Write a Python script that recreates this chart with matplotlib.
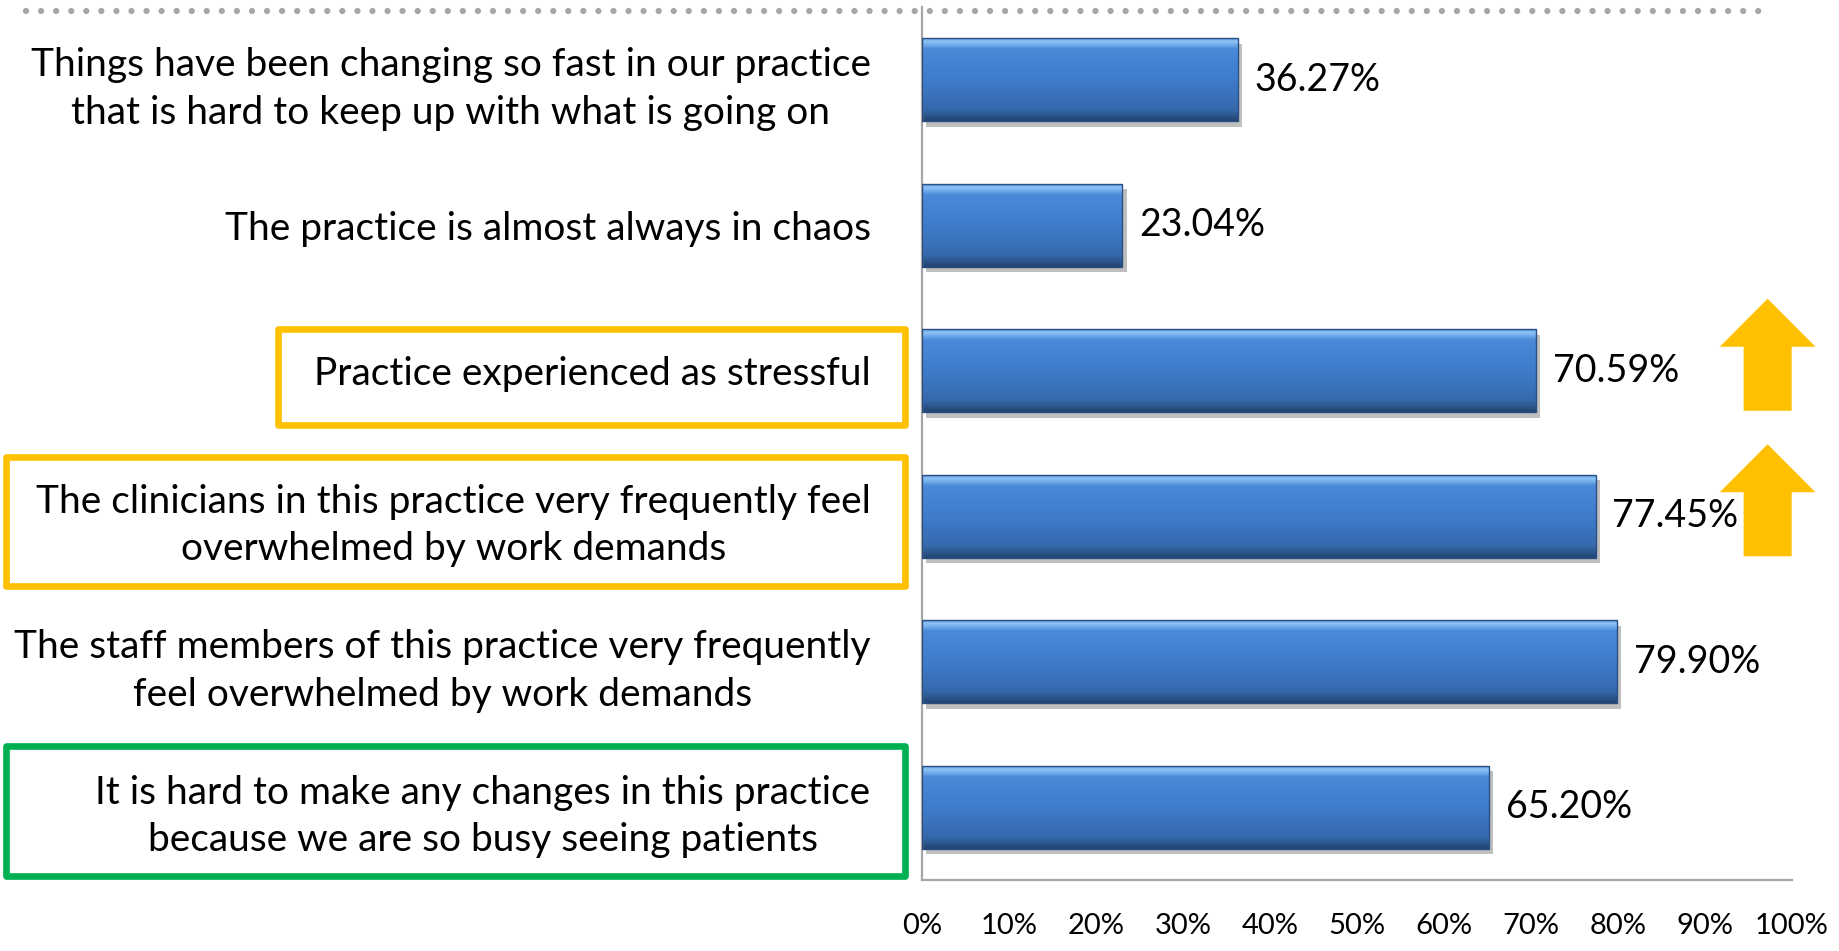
import numpy as np
import matplotlib
matplotlib.use("Agg")
import matplotlib.pyplot as plt
from matplotlib.colors import LinearSegmentedColormap
from matplotlib.patches import Polygon, Rectangle
from matplotlib.lines import Line2D
from matplotlib import patheffects as pe
import matplotlib.transforms as mtransforms

# ──────────────────────────────────────────────────────────────────────────────
# Data
# ──────────────────────────────────────────────────────────────────────────────

categories = [
    "Things have been changing so fast in our practice\nthat is hard to keep up with what is going on",
    "The practice is almost always in chaos",
    "Practice experienced as stressful",
    "The clinicians in this practice very frequently feel\noverwhelmed by work demands",
    "The staff members of this practice very frequently\nfeel overwhelmed by work demands",
    "It is hard to make any changes in this practice\nbecause we are so busy seeing patients",
]
values = [36.27, 23.04, 70.59, 77.45, 79.90, 65.20]
value_labels = ["36.27%", "23.04%", "70.59%", "77.45%", "79.90%", "65.20%"]
x_ticks = [0, 10, 20, 30, 40, 50, 60, 70, 80, 90, 100]
x_tick_labels = [f"{t}%" for t in x_ticks]

# highlighted labels: (category index, colour, left edge in axes fraction, top, bottom offsets)
highlights = [
    (2, "#FFC000", -0.740, 0.285, 0.375),
    (3, "#FFC000", -1.053, 0.41, 0.48),
    (5, "#00B050", -1.053, 0.42, 0.47),
]
arrow_rows = [2, 3]

# ──────────────────────────────────────────────────────────────────────────────
# Figure
# ──────────────────────────────────────────────────────────────────────────────

plt.rcParams["font.family"] = ["Lato", "DejaVu Sans"]

W, H = 1839, 951
fig = plt.figure(figsize=(W / 100, H / 100), dpi=100)
ax = fig.add_axes([922 / W, 1 - 880 / H, 870 / W, 873 / H])
ax.set_facecolor("none")

y = np.arange(len(categories))
bar_h = 0.57
bars = ax.barh(y, values, height=bar_h, color="#3D7BCA", zorder=2,
               path_effects=[pe.SimplePatchShadow(offset=(3, -4), shadow_rgbFace="black", alpha=0.25),
                             pe.Normal()])

# glossy vertical gradient on every bar
grad_cmap = LinearSegmentedColormap.from_list("bevel", [
    (0.0, "#5C9CE2"), (0.04, "#8EC5F7"), (0.13, "#4A8AD9"),
    (0.5, "#3E7CCB"), (0.86, "#3669AC"), (1.0, "#23446F"),
])
grad = np.linspace(0, 1, 256).reshape(-1, 1)
for bar in bars:
    x0, y0 = bar.get_x(), bar.get_y()
    w, h = bar.get_width(), bar.get_height()
    im = ax.imshow(grad, cmap=grad_cmap, aspect="auto", zorder=2.5,
                   extent=[x0, x0 + w, y0 + h, y0], interpolation="bilinear")
    im.set_clip_path(bar)
    ax.add_patch(Rectangle((x0, y0), w, h, fill=False, edgecolor="#2A4F82", lw=1.0, zorder=3))

for yi, v, lab in zip(y, values, value_labels):
    ax.annotate(lab, (v, yi), xytext=(12, 0), textcoords="offset points",
                va="center", ha="left", fontsize=27, color="black")

ax.set_xlim(0, 100)
ax.set_ylim(len(categories) - 0.5, -0.5)
ax.set_xticks(x_ticks)
ax.set_xticklabels(x_tick_labels, fontsize=21)
ax.set_yticks(y)
ax.set_yticklabels(categories, fontsize=28, ma="center", linespacing=1.4)
ax.tick_params(axis="x", length=0, pad=24)
ax.tick_params(axis="y", length=0, pad=37)
for side in ("top", "right"):
    ax.spines[side].set_visible(False)
for side in ("left", "bottom"):
    ax.spines[side].set_color("#A6A6A6")
    ax.spines[side].set_linewidth(1.6)

# boxes round highlighted labels (x in axes fraction, y in data)
blend = mtransforms.blended_transform_factory(ax.transAxes, ax.transData)
for row, col, left, up, down in highlights:
    right = -0.0195
    ax.add_patch(Rectangle((left, row - up), right - left, up + down, transform=blend,
                           fill=False, edgecolor=col, lw=4.8, joinstyle="round",
                           clip_on=False, zorder=5))

# up arrows beside the highlighted rows
for row in arrow_rows:
    cx = 97.2
    head, shaft = 5.5, 2.76
    tip, base, bottom = row - 0.495, row - 0.165, row + 0.275
    pts = [(cx, tip), (cx + head, base), (cx + shaft, base), (cx + shaft, bottom),
           (cx - shaft, bottom), (cx - shaft, base), (cx - head, base)]
    ax.add_patch(Polygon(pts, closed=True, facecolor="#FFC000", edgecolor="none",
                         clip_on=False, zorder=6))

# dotted rule across the top
fig.add_artist(Line2D([26 / W, 1759 / W], [1 - 11 / H, 1 - 11 / H], transform=fig.transFigure,
                      color="#A6A6A6", lw=4.5, linestyle=(0, (0.01, 2.4)),
                      dash_capstyle="round", zorder=0))

fig.savefig("out.png", dpi=100)
